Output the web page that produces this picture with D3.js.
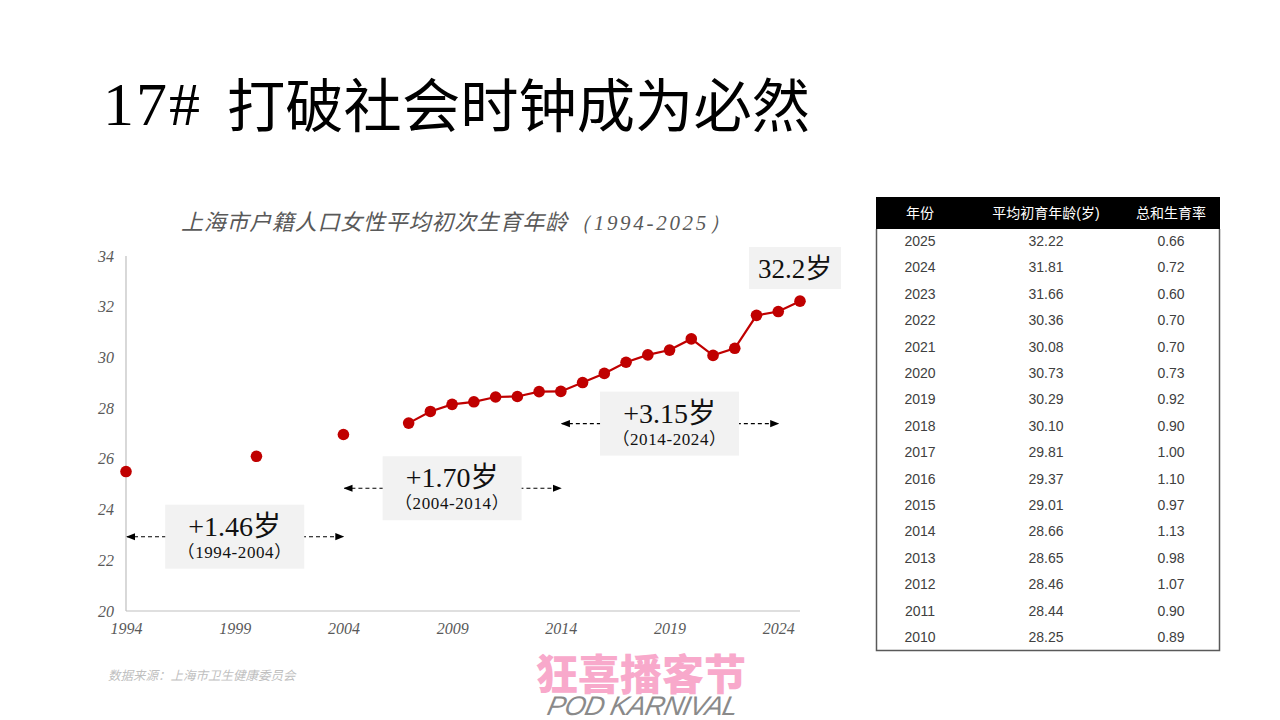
<!doctype html>
<html lang="zh">
<head>
    <meta charset="utf-8"/>
    <title>17# 打破社会时钟成为必然</title>
    <style>
        body { margin: 0; background: #fff; }
        .serif { font-family: "Liberation Serif", "Noto Sans CJK SC", serif; }
        .sans { font-family: "Liberation Sans", "Noto Sans CJK SC", sans-serif; }
        .axis text { font-family: "Liberation Serif", serif; font-style: italic; font-size: 16px; fill: #595959; }
        .axis path { stroke: #bfbfbf; stroke-width: 1.2; }
    </style>
    <script src="https://d3js.org/d3.v7.min.js"></script>
</head>
<body>
<svg width="1280" height="720"></svg>
<script>

    // chart points (year / average age at first birth)
    var years = [1994, 2000, 2004, 2007, 2008, 2009, 2010, 2011, 2012, 2013, 2014, 2015,
                 2016, 2017, 2018, 2019, 2020, 2021, 2022, 2023, 2024, 2025];
    var ages = [25.50, 26.10, 26.96, 27.41, 27.87, 28.15, 28.25, 28.44, 28.46, 28.65, 28.66, 29.01,
                29.37, 29.81, 30.10, 30.29, 30.73, 30.08, 30.36, 31.66, 31.81, 32.22];
    var lineFrom = 2007;

    var yTicks = [20, 22, 24, 26, 28, 30, 32, 34];
    var xTicks = [1994, 1999, 2004, 2009, 2014, 2019, 2024];

    // growth annotations
    var periods = [[1994, 2004], [2004, 2014], [2014, 2024]];
    var growth = ["+1.46岁", "+1.70岁", "+3.15岁"];
    var arrowLevel = [22.93, 24.84, 27.39];

    // table
    var tableHead = ["年份", "平均初育年龄(岁)", "总和生育率"];
    var tableYears = ["2025", "2024", "2023", "2022", "2021", "2020", "2019", "2018",
                      "2017", "2016", "2015", "2014", "2013", "2012", "2011", "2010"];
    var tableAges = ["32.22", "31.81", "31.66", "30.36", "30.08", "30.73", "30.29", "30.10",
                     "29.81", "29.37", "29.01", "28.66", "28.65", "28.46", "28.44", "28.25"];
    var tableTfr = ["0.66", "0.72", "0.60", "0.70", "0.70", "0.73", "0.92", "0.90",
                    "1.00", "1.10", "0.97", "1.13", "0.98", "1.07", "0.90", "0.89"];

    var svg = d3.select("svg");

    // page title
    svg.append("text")
       .attr("class", "serif")
       .attr("x", 103)
       .attr("y", 125)
       .attr("font-size", "62px")
       .attr("letter-spacing", "2px")
       .text("17#");
    svg.append("text")
       .attr("x", 227)
       .attr("y", 127)
       .attr("font-family", "'Noto Sans CJK SC', sans-serif")
       .attr("font-size", "58px")
       .attr("textLength", 583)
       .attr("lengthAdjust", "spacingAndGlyphs")
       .text("打破社会时钟成为必然");

    // chart title
    var ct = svg.append("text")
       .attr("x", 181)
       .attr("y", 230)
       .attr("fill", "#595959")
       .attr("font-style", "italic");
    ct.append("tspan")
      .attr("font-family", "'Noto Sans CJK SC', sans-serif")
      .attr("font-size", "22px")
      .attr("textLength", 386)
      .text("上海市户籍人口女性平均初次生育年龄");
    ct.append("tspan")
      .attr("x", 570)
      .attr("font-family", "'Liberation Serif', serif")
      .attr("font-size", "21px")
      .attr("textLength", 160)
      .text("（1994-2025）");

    var x = d3.scaleLinear().domain([1994, 2025]).range([126, 800]),
        y = d3.scaleLinear().domain([20, 34]).range([611, 256]);

    svg.append("g")
       .attr("class", "axis")
       .attr("transform", "translate(126,0)")
       .call(d3.axisLeft(y).tickValues(yTicks).tickSize(0).tickPadding(12))
       .call(function(g) { g.select(".domain").attr("d", "M0," + y(20) + "V" + y(34)); });

    svg.append("g")
       .attr("class", "axis")
       .attr("transform", "translate(0," + y(20) + ")")
       .call(d3.axisBottom(x).tickValues(xTicks).tickSize(0).tickPadding(12).tickFormat(d3.format("d")))
       .call(function(g) { g.select(".domain").attr("d", "M" + x(1994) + ",0H" + x(2025)); });

    // arrows
    var defs = svg.append("defs");
    defs.append("marker")
        .attr("id", "head")
        .attr("viewBox", "0 0 10 10")
        .attr("refX", 9).attr("refY", 5)
        .attr("markerWidth", 9).attr("markerHeight", 9)
        .attr("markerUnits", "userSpaceOnUse")
        .attr("orient", "auto-start-reverse")
        .append("path")
        .attr("d", "M0,1L10,5L0,9z")
        .attr("fill", "#000");

    var boxW = 139, boxH = 64;

    periods.forEach(function(p, i) {
        var cy = y(arrowLevel[i]);
        var cx = (x(p[0]) + x(p[1])) / 2;
        svg.append("line")
           .attr("x1", x(p[0]) + 1).attr("x2", x(p[1]))
           .attr("y1", cy).attr("y2", cy)
           .attr("stroke", "#000")
           .attr("stroke-width", 1.1)
           .attr("stroke-dasharray", "4,3")
           .attr("marker-start", "url(#head)")
           .attr("marker-end", "url(#head)");
        svg.append("rect")
           .attr("x", cx - boxW / 2).attr("y", cy - boxH / 2)
           .attr("width", boxW).attr("height", boxH)
           .attr("fill", "#f2f2f2");
        svg.append("text")
           .attr("class", "serif")
           .attr("x", cx).attr("y", cy - 1)
           .attr("text-anchor", "middle")
           .attr("font-size", "28px")
           .attr("fill", "#111")
           .text(growth[i]);
        svg.append("text")
           .attr("class", "serif")
           .attr("x", cx).attr("y", cy + 21)
           .attr("text-anchor", "middle")
           .attr("font-size", "17px")
           .attr("letter-spacing", "0.6px")
           .attr("fill", "#111")
           .text("（" + p[0] + "-" + p[1] + "）");
    });

    // last value label
    var lastX = x(years[years.length - 1]) - 5;
    svg.append("rect")
       .attr("x", lastX - 46).attr("y", 247)
       .attr("width", 92).attr("height", 42)
       .attr("fill", "#f2f2f2");
    svg.append("text")
       .attr("class", "serif")
       .attr("x", lastX).attr("y", 278)
       .attr("text-anchor", "middle")
       .attr("font-size", "27px")
       .attr("fill", "#111")
       .text(d3.format(".1f")(ages[ages.length - 1]) + "岁");

    var pts = years.map(function(d, i) { return { year: d, age: ages[i] }; });

    svg.append("path")
       .datum(pts.filter(function(d) { return d.year >= lineFrom; }))
       .attr("fill", "none")
       .attr("stroke", "#c00000")
       .attr("stroke-width", 2.2)
       .attr("d", d3.line().x(function(d) { return x(d.year); }).y(function(d) { return y(d.age); }));

    svg.selectAll(".dot")
       .data(pts)
       .enter().append("circle")
       .attr("class", "dot")
       .attr("cx", function(d) { return x(d.year); })
       .attr("cy", function(d) { return y(d.age); })
       .attr("r", 5.8)
       .attr("fill", "#c00000");

    // source
    svg.append("text")
       .attr("x", 108).attr("y", 680)
       .attr("font-family", "'Noto Sans CJK SC', sans-serif")
       .attr("font-style", "italic")
       .attr("font-size", "12.5px")
       .attr("fill", "#bfbfbf")
       .text("数据来源：上海市卫生健康委员会");

    // logo
    svg.append("text")
       .attr("x", 536).attr("y", 690)
       .attr("font-family", "'Noto Sans CJK SC', sans-serif")
       .attr("font-weight", "900")
       .attr("font-size", "42px")
       .attr("fill", "#f8a9cb")
       .text("狂喜播客节");
    svg.append("text")
       .attr("x", 548).attr("y", 715)
       .attr("font-family", "'Liberation Sans', sans-serif")
       .attr("font-style", "italic")
       .attr("font-size", "27px")
       .attr("textLength", 190)
       .attr("fill", "#8a8a8a")
       .attr("transform", "skewX(-12) translate(150,0)")
       .text("POD KARNIVAL");

    // table
    var colX = [920, 1046, 1171];
    var rowY = d3.scaleLinear().domain([0, tableYears.length - 1]).range([241, 637]);
    var tbl = svg.append("g").attr("class", "sans");

    tbl.append("rect")
       .attr("x", 876).attr("y", 197)
       .attr("width", 344).attr("height", 32)
       .attr("fill", "#000");
    tbl.selectAll(".head")
       .data(tableHead)
       .enter().append("text")
       .attr("x", function(d, i) { return colX[i]; })
       .attr("y", 218)
       .attr("text-anchor", "middle")
       .attr("font-size", "14px")
       .attr("fill", "#fff")
       .text(function(d) { return d; });

    [tableYears, tableAges, tableTfr].forEach(function(col, c) {
        tbl.selectAll(".c" + c)
           .data(col)
           .enter().append("text")
           .attr("x", colX[c])
           .attr("y", function(d, i) { return rowY(i); })
           .attr("dy", "0.36em")
           .attr("text-anchor", "middle")
           .attr("font-size", "14px")
           .attr("fill", "#404040")
           .text(function(d) { return d; });
    });

    tbl.append("path")
       .attr("d", "M876.5,229V650.5H1219.5V229")
       .attr("fill", "none")
       .attr("stroke", "#595959")
       .attr("stroke-width", 1.5);

</script>
</body>
</html>
